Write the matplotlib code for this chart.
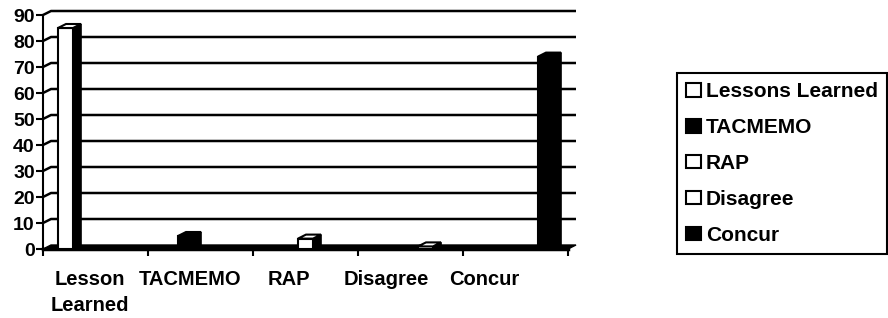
import matplotlib
matplotlib.use("Agg")
import matplotlib.pyplot as plt
from matplotlib.patches import Polygon, Patch

# ---- data ----
categories = ["Lesson\nLearned", "TACMEMO", "RAP", "Disagree", "Concur"]
series_names = ["Lessons Learned", "TACMEMO", "RAP", "Disagree", "Concur"]
series_colors = ["white", "black", "white", "white", "black"]
# each series value per category
lessons_learned = [85, 0, 0, 0, 0]
tacmemo = [0, 5, 0, 0, 0]
rap = [0, 0, 4, 0, 0]
disagree = [0, 0, 0, 1, 0]
concur = [0, 0, 0, 0, 74]
series_values = [lessons_learned, tacmemo, rap, disagree, concur]
yticks = [0, 10, 20, 30, 40, 50, 60, 70, 80, 90]
label_pos = [0.45, 1.40, 2.34, 3.27, 4.20]

plt.rcParams['font.family'] = ['Liberation Sans', 'DejaVu Sans']
plt.rcParams['font.weight'] = 'bold'

W, H = 888, 318
fig = plt.figure(figsize=(W / 100, H / 100), dpi=100)
ax_l, ax_r, ax_b, ax_t = 43, 568, 249, 15
ax = fig.add_axes([ax_l / W, (H - ax_b) / H, (ax_r - ax_l) / W, (ax_b - ax_t) / H])
ncat = len(categories)
ax.set_xlim(0, ncat)
ax.set_ylim(0, 90)

# depth (pixels) converted to data units via the axes scale
DX, DY = 8, 4
dxd = DX / ((ax_r - ax_l) / ncat)
dyd = DY / ((ax_b - ax_t) / 90)

# back wall gridlines + side wall diagonals
for v in yticks[1:]:
    ax.plot([0, dxd, ncat + dxd], [v, v + dyd, v + dyd], color='black', lw=1.8,
            clip_on=False, zorder=1, solid_capstyle='butt')

# floor
ax.add_patch(Polygon([(0, 0), (ncat, 0), (ncat + dxd, dyd), (dxd, dyd)], closed=True,
                     facecolor='black', edgecolor='black', lw=1, clip_on=False, zorder=2))

# bars
nser = len(series_values)
bw = 1 / (nser + 2)
for k, (vals, col) in enumerate(zip(series_values, series_colors)):
    lefts = [i + bw + k * bw for i in range(ncat)]
    ax.bar(lefts, vals, width=bw, align='edge', color=col, edgecolor='black', lw=1.5,
           zorder=5 + k, clip_on=False)
    for x0, h in zip(lefts, vals):
        if h <= 0:
            continue
        side = [(x0 + bw, 0), (x0 + bw, h), (x0 + bw + dxd, h + dyd), (x0 + bw + dxd, dyd)]
        top = [(x0, h), (x0 + bw, h), (x0 + bw + dxd, h + dyd), (x0 + dxd, h + dyd)]
        ax.add_patch(Polygon(side, closed=True, facecolor='black', edgecolor='black',
                             lw=1.2, zorder=5 + k, clip_on=False))
        ax.add_patch(Polygon(top, closed=True, facecolor=col, edgecolor='black',
                             lw=1.5, zorder=5 + k, clip_on=False))

for s in ['top', 'right']:
    ax.spines[s].set_visible(False)
ax.spines['left'].set_linewidth(1.5)
ax.spines['bottom'].set_linewidth(2.5)
ax.spines['left'].set_zorder(3)

ax.set_yticks(yticks)
ax.set_yticklabels([str(v) for v in yticks], fontsize=14, fontweight='bold')
ax.tick_params(axis='y', direction='out', length=5, width=1.5, pad=1)

ax.set_xticks(range(ncat + 1))
ax.set_xticklabels([])
ax.tick_params(axis='x', which='major', direction='out', length=5, width=1.5)
ax.set_xticks(label_pos, minor=True)
ax.set_xticklabels(categories, minor=True, fontsize=14.5, fontweight='bold', linespacing=1.5)
ax.tick_params(axis='x', which='minor', length=0, pad=15)
for t in ax.get_xticklabels(minor=True):
    t.set_verticalalignment('top')

handles = [Patch(facecolor=c, edgecolor='black', lw=1.5) for c in series_colors]
leg = fig.legend(handles, series_names, loc='upper left',
                 bbox_to_anchor=(677 / W, 1 - 73 / H), frameon=True, fancybox=False,
                 edgecolor='black', framealpha=1, prop={'weight': 'bold', 'size': 15},
                 handlelength=0.68, handleheight=0.6, handletextpad=0.25,
                 labelspacing=0.81, borderpad=0.45, borderaxespad=0)
leg.get_frame().set_linewidth(1.5)

fig.savefig("out.png", dpi=100)
